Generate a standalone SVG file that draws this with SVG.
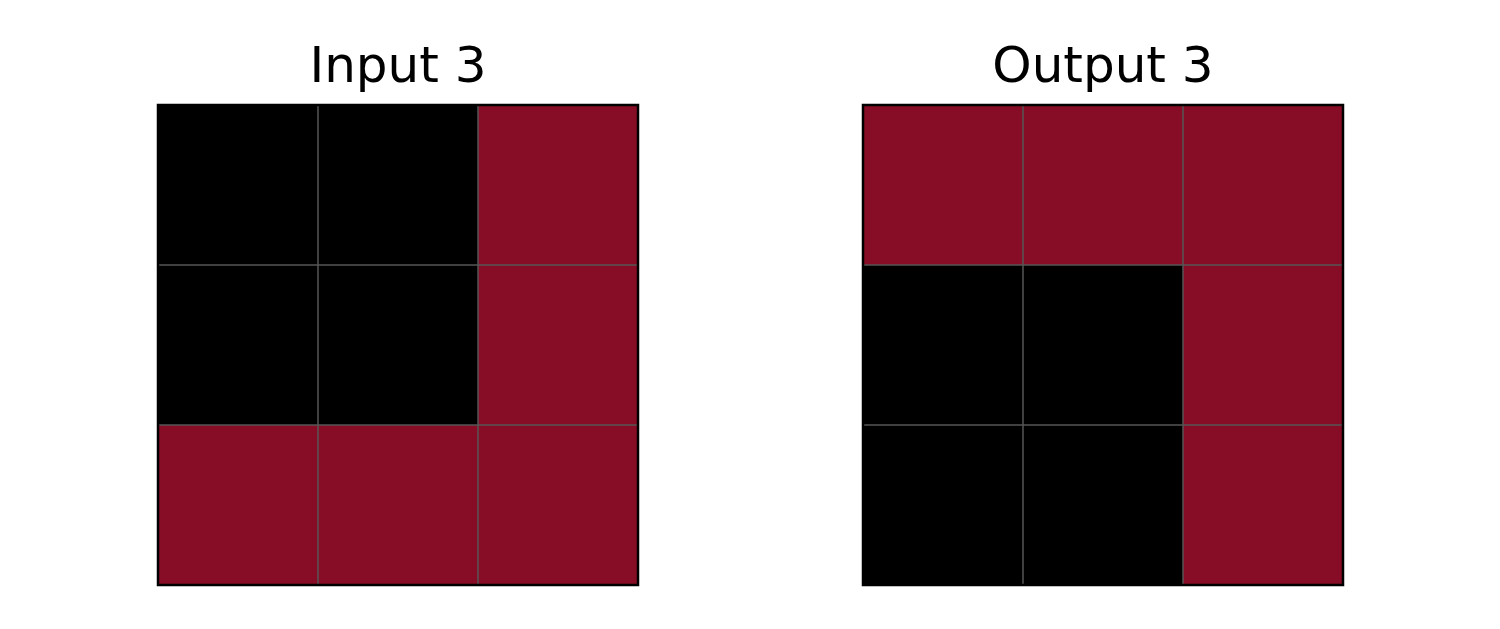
<svg xmlns="http://www.w3.org/2000/svg" width="1500" height="629" viewBox="0 0 1500 629">
<style>
.t{font-family:"DejaVu Sans",sans-serif;font-size:50px;fill:#000;text-anchor:middle}
.r{fill:#870C25}
.k{fill:#000}
.g{stroke:#555;stroke-width:1.5;fill:none}
.b{stroke:#000;stroke-width:2.5;fill:none}
</style>
<rect width="1500" height="629" fill="#fff"/>
<g id="input3">
<text class="t" x="398" y="82">Input 3</text>
<rect class="k" x="158" y="105" width="480" height="480"/>
<rect class="r" x="478" y="105" width="160" height="320"/>
<rect class="r" x="158" y="425" width="480" height="160"/>
<path class="g" d="M318 105V585M478 105V585M158 265H638M158 425H638"/>
<rect class="b" x="158" y="105" width="480" height="480"/>
</g>
<g id="output3">
<text class="t" x="1103" y="82">Output 3</text>
<rect class="k" x="863" y="105" width="480" height="480"/>
<rect class="r" x="863" y="105" width="480" height="160"/>
<rect class="r" x="1183" y="265" width="160" height="320"/>
<path class="g" d="M1023 105V585M1183 105V585M863 265H1343M863 425H1343"/>
<rect class="b" x="863" y="105" width="480" height="480"/>
</g>
<g id="connectors"></g>
</svg>
